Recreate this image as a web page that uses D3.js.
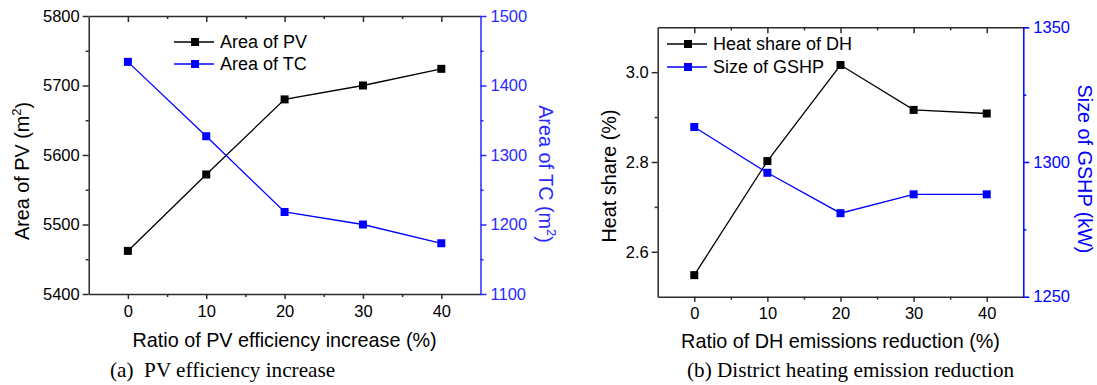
<!DOCTYPE html>
<html><head><meta charset="utf-8">
<script src="https://cdn.jsdelivr.net/npm/d3@7"></script>
<style>
body{margin:0;background:#fff;}
svg{display:block;}
text{font-family:Arial,"Liberation Sans",sans-serif;}
text.cap{font-family:"Liberation Serif","Times New Roman",serif;}
</style></head>
<body>
<svg id="c" width="1097" height="385"></svg>
<script>
// ---- data ----
const ratios = [0, 10, 20, 30, 40];
const areaPV = [5462, 5572, 5680, 5700, 5724];
const areaTC = [1434, 1327, 1218, 1200, 1173];
const heatShareDH = [2.548, 2.802, 3.016, 2.916, 2.908];
const sizeGSHP = [1313, 1296, 1281, 1288, 1288];
const xTicks = [0, 10, 20, 30, 40];
const yTicksPV = [5400, 5500, 5600, 5700, 5800];
const yTicksTC = [1100, 1200, 1300, 1400, 1500];
const yTicksHS = [2.6, 2.8, 3.0];
const yTicksGS = [1250, 1300, 1350];

const svg = d3.select("#c");
const AX = "#2b2b2b";

function panel(o) {
  const g = svg.append("g");
  const x = d3.scaleLinear().domain([-5, 45]).range([o.L, o.R]);
  const yl = d3.scaleLinear().domain(o.ylDom).range([o.B, o.T]);
  const yr = d3.scaleLinear().domain(o.yrDom).range([o.B, o.T]);
  const minorX = d3.range(-5, 46, 5).filter(v => v % 10 !== 0 && v > -5 && v < 45);

  function styleAxis(sel, col, sw) {
    sel.selectAll("path").attr("stroke", col).attr("stroke-width", sw);
    sel.selectAll("line").attr("stroke", col).attr("stroke-width", sw);
  }
  // bottom axis
  const bx = g.append("g").attr("transform", `translate(0,${o.B})`)
    .call(d3.axisBottom(x).tickValues(xTicks).tickSize(5).tickSizeOuter(0).tickPadding(6).tickFormat(d3.format("d")));
  styleAxis(bx, AX, 1.5);
  bx.selectAll("text").attr("font-size", 16.5).attr("fill", "#000");
  const bxm = g.append("g").attr("transform", `translate(0,${o.B})`)
    .call(d3.axisBottom(x).tickValues(minorX).tickSize(3).tickSizeOuter(0).tickFormat(""));
  styleAxis(bxm, AX, 1.5); bxm.select("path").remove();
  // top axis (ticks inward)
  const tx = g.append("g").attr("transform", `translate(0,${o.T})`)
    .call(d3.axisBottom(x).tickValues(xTicks).tickSize(6).tickSizeOuter(0).tickFormat(""));
  styleAxis(tx, AX, 1.5);
  const txm = g.append("g").attr("transform", `translate(0,${o.T})`)
    .call(d3.axisBottom(x).tickValues(minorX).tickSize(3).tickSizeOuter(0).tickFormat(""));
  styleAxis(txm, AX, 1.5); txm.select("path").remove();
  // left axis
  const ly = g.append("g").attr("transform", `translate(${o.L},0)`)
    .call(d3.axisLeft(yl).tickValues(o.ylTicks).tickSize(6).tickSizeOuter(0).tickPadding(3).tickFormat(o.ylFmt));
  styleAxis(ly, AX, 1.5);
  ly.selectAll("text").attr("font-size", 16.5).attr("fill", "#000");
  const lym = g.append("g").attr("transform", `translate(${o.L},0)`)
    .call(d3.axisLeft(yl).tickValues(o.ylMinor).tickSize(3).tickSizeOuter(0).tickFormat(""));
  styleAxis(lym, AX, 1.5); lym.select("path").remove();
  // right axis
  const ry = g.append("g").attr("transform", `translate(${o.R},0)`)
    .call(d3.axisRight(yr).tickValues(o.yrTicks).tickSize(6).tickSizeOuter(0).tickPadding(4).tickFormat(d3.format("d")));
  styleAxis(ry, o.rCol, 1.5);
  ry.selectAll("text").attr("font-size", 16.5).attr("fill", o.rCol);
  const rym = g.append("g").attr("transform", `translate(${o.R},0)`)
    .call(d3.axisRight(yr).tickValues(o.yrMinor).tickSize(3).tickSizeOuter(0).tickFormat(""));
  styleAxis(rym, o.rCol, 1.5); rym.select("path").remove();

  // series
  const series = [
    {vals: o.s1, y: yl, col: "#000000"},
    {vals: o.s2, y: yr, col: "#0000ff"}
  ];
  series.forEach(s => {
    const line = d3.line().x((d, i) => x(ratios[i])).y(d => s.y(d));
    g.append("path").attr("d", line(s.vals)).attr("fill", "none").attr("stroke", s.col).attr("stroke-width", 1.3);
    g.selectAll(null).data(s.vals).enter().append("rect")
      .attr("x", (d, i) => x(ratios[i]) - 4).attr("y", d => s.y(d) - 4)
      .attr("width", 8).attr("height", 8).attr("fill", s.col);
  });

  // legend
  o.legend.forEach((lab, i) => {
    const col = i === 0 ? "#000" : "#0000ff";
    const yy = o.legY + i * o.legDy;
    g.append("line").attr("x1", o.legX).attr("x2", o.legX + 40).attr("y1", yy).attr("y2", yy)
      .attr("stroke", col).attr("stroke-width", 1.3);
    g.append("rect").attr("x", o.legX + 21 - 4).attr("y", yy - 4).attr("width", 8).attr("height", 8).attr("fill", col);
    g.append("text").attr("x", o.legX + 46).attr("y", yy).attr("dy", "0.36em")
      .attr("font-size", 18).attr("fill", "#000").text(lab);
  });

  // axis titles
  g.append("text").attr("x", (o.L + o.R) / 2).attr("y", o.xtY).attr("text-anchor", "middle")
    .attr("font-size", 19.8).attr("fill", "#000").text(o.xTitle);
  const lt = g.append("text").attr("transform", `translate(${o.ltX},${o.ltY}) rotate(-90)`)
    .attr("text-anchor", "middle").attr("dy", "0.36em").attr("font-size", 19.8).attr("fill", "#000");
  o.lTitle(lt);
  const rt = g.append("text").attr("transform", `translate(${o.rtX},${o.rtY}) rotate(90)`)
    .attr("text-anchor", "middle").attr("dy", "0.36em").attr("font-size", 19.8).attr("fill", o.rCol);
  o.rTitle(rt);
  // caption
  g.append("text").attr("class", "cap").attr("x", o.capX).attr("y", 377).attr("font-size", 21.2)
    .attr("fill", "#000").style("white-space", "pre").text(o.caption);
}

function withSup(base, sup, tail) {
  return t => {
    t.append("tspan").text(base);
    t.append("tspan").attr("font-size", 13).attr("dy", "-0.6em").text(sup);
    t.append("tspan").attr("dy", "0.42em").text(tail);
  };
}

panel({
  L: 88.7, R: 480.5, T: 16, B: 294,
  ylDom: [5400, 5800], yrDom: [1100, 1500],
  ylTicks: yTicksPV, ylMinor: [5450, 5550, 5650, 5750], ylFmt: d3.format("d"),
  yrTicks: yTicksTC, yrMinor: [1150, 1250, 1350, 1450],
  rCol: "#2a2aff",
  s1: areaPV, s2: areaTC,
  legend: ["Area of PV", "Area of TC"], legX: 174, legY: 42, legDy: 22,
  xTitle: "Ratio of PV efficiency increase (%)", xtY: 347,
  ltX: 22, ltY: 171, lTitle: withSup("Area of PV (m", "2", ")"),
  rtX: 546, rtY: 174, rTitle: withSup("Area of TC (m", "2", ")"),
  capX: 110, caption: "(a)  PV efficiency increase"
});

panel({
  L: 657.7, R: 1023.3, T: 27.3, B: 296.7,
  ylDom: [2.5, 3.1], yrDom: [1250, 1350],
  ylTicks: yTicksHS, ylMinor: [2.7, 2.9], ylFmt: d3.format(".1f"),
  yrTicks: yTicksGS, yrMinor: [1275, 1325],
  rCol: "#0000ff",
  s1: heatShareDH, s2: sizeGSHP,
  legend: ["Heat share of DH", "Size of GSHP"], legX: 667, legY: 44, legDy: 23,
  xTitle: "Ratio of DH emissions reduction (%)", xtY: 348,
  ltX: 609, ltY: 176, lTitle: t => t.text("Heat share (%)"),
  rtX: 1085, rtY: 169, rTitle: t => t.text("Size of GSHP (kW)"),
  capX: 687, caption: "(b) District heating emission reduction"
});
</script>
</body></html>
